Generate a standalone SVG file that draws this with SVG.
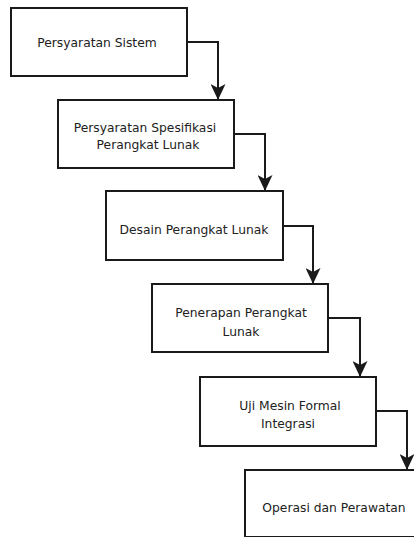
<svg xmlns="http://www.w3.org/2000/svg" width="414" height="537" viewBox="0 0 414 537">
<style>
.box{fill:#ffffff;stroke:#1a1a1a;stroke-width:2}
.lbl{font-family:"DejaVu Sans","Liberation Sans",sans-serif;font-size:12.3px;fill:#222222;text-anchor:middle}
.edge{fill:none;stroke:#1a1a1a;stroke-width:2;marker-end:url(#arr)}
</style>
<defs>
<marker id="arr" markerUnits="userSpaceOnUse" markerWidth="16" markerHeight="15" refX="16" refY="7.5" orient="auto" viewBox="0 0 16 15">
<path d="M0,0 L16,7.5 L0,15 L4,7.5 Z" fill="#1a1a1a"/>
</marker>
</defs>
<rect width="414" height="537" fill="#ffffff"/>
<g id="connectors">
<path class="edge" d="M187,42 H218 V100"/>
<path class="edge" d="M234,134 H265 V191"/>
<path class="edge" d="M283,226 H313 V284"/>
<path class="edge" d="M328,318 H360 V377"/>
<path class="edge" d="M376,411 H407 V470"/>
</g>
<g id="node1">
<rect class="box" x="11" y="8" width="176" height="68"/>
<text class="lbl" x="97" y="47">Persyaratan Sistem</text>
</g>
<g id="node2">
<rect class="box" x="58" y="100" width="176" height="68"/>
<text class="lbl" x="145" y="132">Persyaratan Spesifikasi</text>
<text class="lbl" x="148" y="149">Perangkat Lunak</text>
</g>
<g id="node3">
<rect class="box" x="106" y="191" width="177" height="69"/>
<text class="lbl" x="194" y="234">Desain Perangkat Lunak</text>
</g>
<g id="node4">
<rect class="box" x="152" y="284" width="176" height="68"/>
<text class="lbl" x="241" y="317">Penerapan Perangkat</text>
<text class="lbl" x="241" y="336">Lunak</text>
</g>
<g id="node5">
<rect class="box" x="200" y="377" width="176" height="69"/>
<text class="lbl" x="290" y="410">Uji Mesin Formal</text>
<text class="lbl" x="288" y="428">Integrasi</text>
</g>
<g id="node6">
<rect class="box" x="245" y="470" width="176" height="67"/>
<text class="lbl" x="334" y="512">Operasi dan Perawatan</text>
</g>
</svg>
